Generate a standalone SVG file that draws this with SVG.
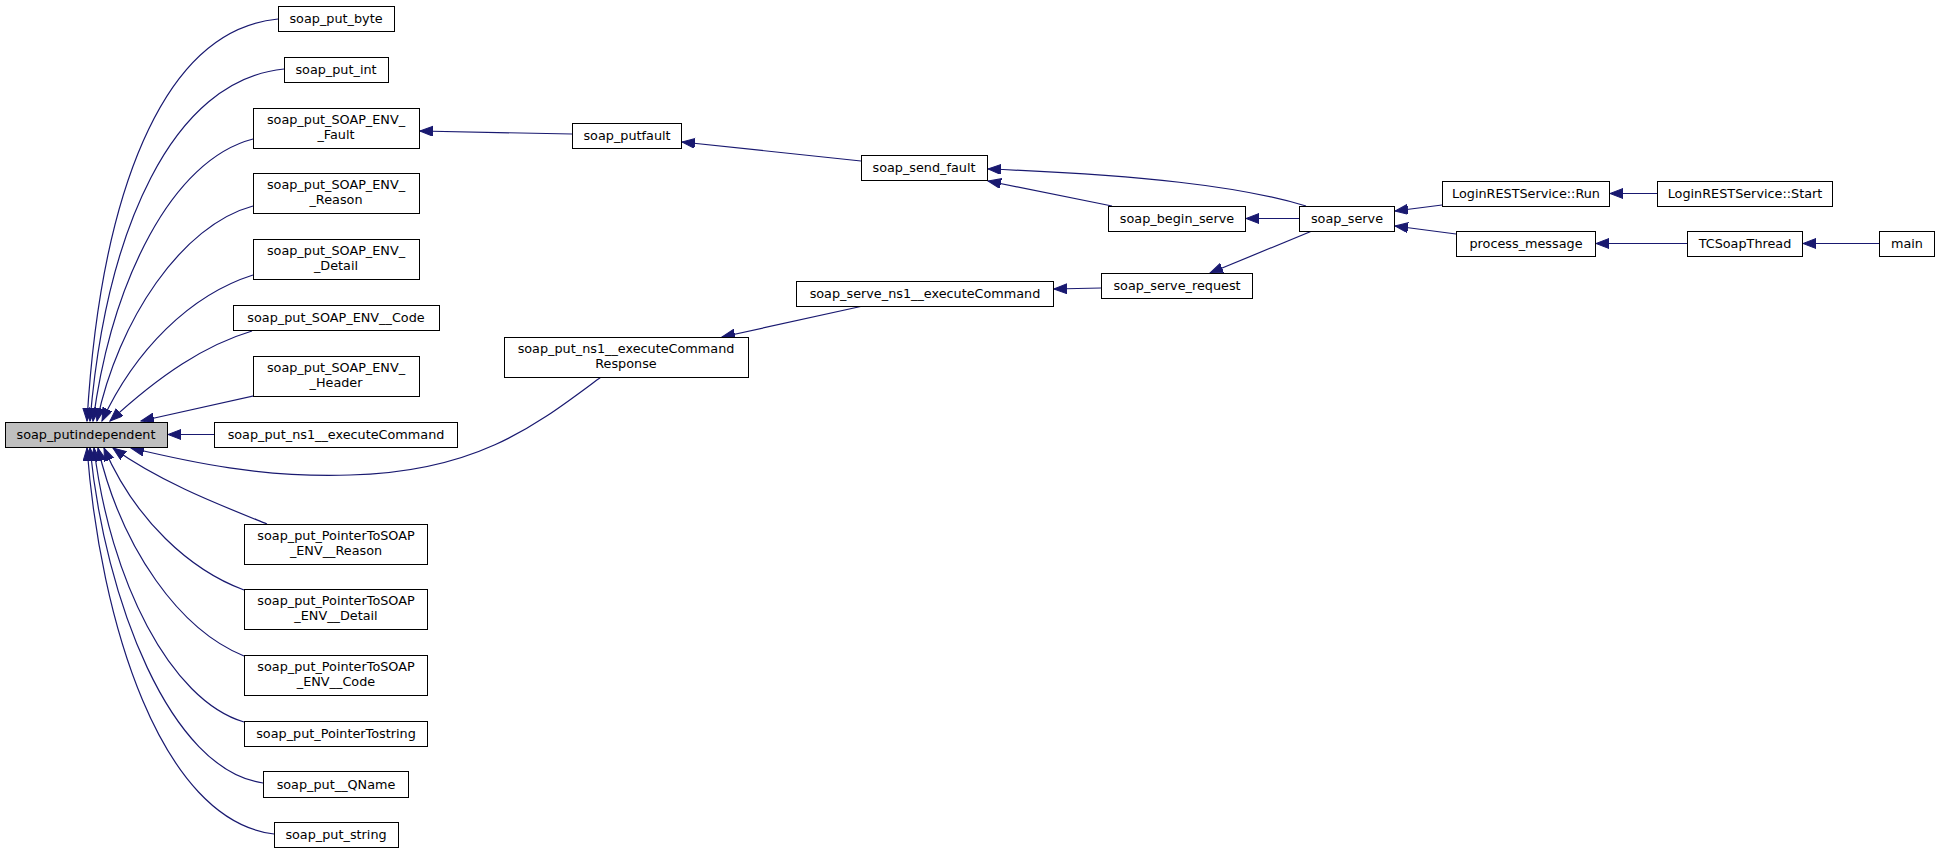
<svg xmlns="http://www.w3.org/2000/svg" width="1940" height="853" viewBox="0 0 1940 853">
<style>
.n rect{fill:#fff;stroke:#000;stroke-width:1}
.n text{font-family:"DejaVu Sans","Liberation Sans",sans-serif;font-size:12.8px;text-anchor:middle;fill:#000}
#n0 rect{fill:#bfbfbf}
.e path{fill:none;stroke:#191970;stroke-width:1.2;marker-end:url(#ah)}
</style>
<defs>
<marker id="ah" markerUnits="userSpaceOnUse" markerWidth="14" markerHeight="11" refX="13" refY="5" orient="auto">
<path d="M0,0 L13,5 L0,10 z" fill="#191970" stroke="#191970" stroke-width="1"/>
</marker>
</defs>
<rect width="1940" height="853" fill="#fff"/>
<g id="edges" class="e">
<path d="M278,19 C160,30 100,200 87,421"/>
<path d="M284,69 C172,80 106,230 90,421"/>
<path d="M253,139 C172,160 112,280 93,421"/>
<path d="M253,206 C182,225 118,320 97,421"/>
<path d="M253,275 C190,295 135,350 102,421"/>
<path d="M252,331 C205,345 160,375 110,421"/>
<path d="M258,395 L141,421"/>
<path d="M214,434.5 L168,434.5"/>
<path d="M601,377 C540,422 480,472 350,475 C262,478 190,462 131,448"/>
<path d="M267,524 C220,505 160,482 113,448"/>
<path d="M244,590 C190,570 135,520 104,448"/>
<path d="M244,656 C180,630 122,550 98,448"/>
<path d="M244,722 C170,700 110,580 94,448"/>
<path d="M263,783 C170,770 105,600 90,448"/>
<path d="M274,834 C160,820 100,620 87,448"/>
<path d="M572,134 L420,131"/>
<path d="M861,161 L682,142"/>
<path d="M1306,206 C1240,186 1140,175 988,169"/>
<path d="M1112,206 L988,181"/>
<path d="M1299,218.5 L1246,218.5"/>
<path d="M1312,231 L1210,273"/>
<path d="M1101,288 L1054,289"/>
<path d="M863,306 L722,337"/>
<path d="M1442,205 L1395,211"/>
<path d="M1456,234 L1395,226"/>
<path d="M1657,193.5 L1610,193.5"/>
<path d="M1687,243.5 L1596,243.5"/>
<path d="M1879,243.5 L1803,243.5"/>
</g>
<g id="n0" class="n"><rect x="5.5" y="422.5" width="162" height="25"/><text x="86" y="439">soap_putindependent</text></g>
<g id="n1" class="n"><rect x="278.5" y="6.5" width="116" height="25"/><text x="336" y="23">soap_put_byte</text></g>
<g id="n2" class="n"><rect x="284.5" y="57.5" width="104" height="25"/><text x="336" y="74">soap_put_int</text></g>
<g id="n3" class="n"><rect x="253.5" y="108.5" width="166" height="40"/><text x="336" y="124">soap_put_SOAP_ENV_</text><text x="336" y="139">_Fault</text></g>
<g id="n4" class="n"><rect x="253.5" y="173.5" width="166" height="40"/><text x="336" y="189">soap_put_SOAP_ENV_</text><text x="336" y="204">_Reason</text></g>
<g id="n5" class="n"><rect x="253.5" y="239.5" width="166" height="40"/><text x="336" y="255">soap_put_SOAP_ENV_</text><text x="336" y="270">_Detail</text></g>
<g id="n6" class="n"><rect x="233.5" y="305.5" width="206" height="25"/><text x="336" y="322">soap_put_SOAP_ENV__Code</text></g>
<g id="n7" class="n"><rect x="253.5" y="356.5" width="166" height="40"/><text x="336" y="372">soap_put_SOAP_ENV_</text><text x="336" y="387">_Header</text></g>
<g id="n8" class="n"><rect x="214.5" y="422.5" width="243" height="25"/><text x="336" y="439">soap_put_ns1__executeCommand</text></g>
<g id="n9" class="n"><rect x="504.5" y="337.5" width="244" height="40"/><text x="626" y="353">soap_put_ns1__executeCommand</text><text x="626" y="368">Response</text></g>
<g id="n10" class="n"><rect x="244.5" y="524.5" width="183" height="40"/><text x="336" y="540">soap_put_PointerToSOAP</text><text x="336" y="555">_ENV__Reason</text></g>
<g id="n11" class="n"><rect x="244.5" y="589.5" width="183" height="40"/><text x="336" y="605">soap_put_PointerToSOAP</text><text x="336" y="620">_ENV__Detail</text></g>
<g id="n12" class="n"><rect x="244.5" y="655.5" width="183" height="40"/><text x="336" y="671">soap_put_PointerToSOAP</text><text x="336" y="686">_ENV__Code</text></g>
<g id="n13" class="n"><rect x="244.5" y="721.5" width="183" height="25"/><text x="336" y="738">soap_put_PointerTostring</text></g>
<g id="n14" class="n"><rect x="263.5" y="771.5" width="145" height="26"/><text x="336" y="789">soap_put__QName</text></g>
<g id="n15" class="n"><rect x="274.5" y="822.5" width="124" height="25"/><text x="336" y="839">soap_put_string</text></g>
<g id="n16" class="n"><rect x="572.5" y="123.5" width="109" height="25"/><text x="627" y="140">soap_putfault</text></g>
<g id="n17" class="n"><rect x="861.5" y="155.5" width="126" height="25"/><text x="924" y="172">soap_send_fault</text></g>
<g id="n18" class="n"><rect x="796.5" y="281.5" width="257" height="25"/><text x="925" y="298">soap_serve_ns1__executeCommand</text></g>
<g id="n19" class="n"><rect x="1101.5" y="273.5" width="151" height="25"/><text x="1177" y="290">soap_serve_request</text></g>
<g id="n20" class="n"><rect x="1108.5" y="206.5" width="137" height="25"/><text x="1177" y="223">soap_begin_serve</text></g>
<g id="n21" class="n"><rect x="1299.5" y="206.5" width="95" height="25"/><text x="1347" y="223">soap_serve</text></g>
<g id="n22" class="n"><rect x="1442.5" y="181.5" width="167" height="25"/><text x="1526" y="198">LoginRESTService::Run</text></g>
<g id="n23" class="n"><rect x="1657.5" y="181.5" width="175" height="25"/><text x="1745" y="198">LoginRESTService::Start</text></g>
<g id="n24" class="n"><rect x="1456.5" y="231.5" width="139" height="25"/><text x="1526" y="248">process_message</text></g>
<g id="n25" class="n"><rect x="1687.5" y="231.5" width="115" height="25"/><text x="1745" y="248">TCSoapThread</text></g>
<g id="n26" class="n"><rect x="1879.5" y="231.5" width="55" height="25"/><text x="1907" y="248">main</text></g>
</svg>
